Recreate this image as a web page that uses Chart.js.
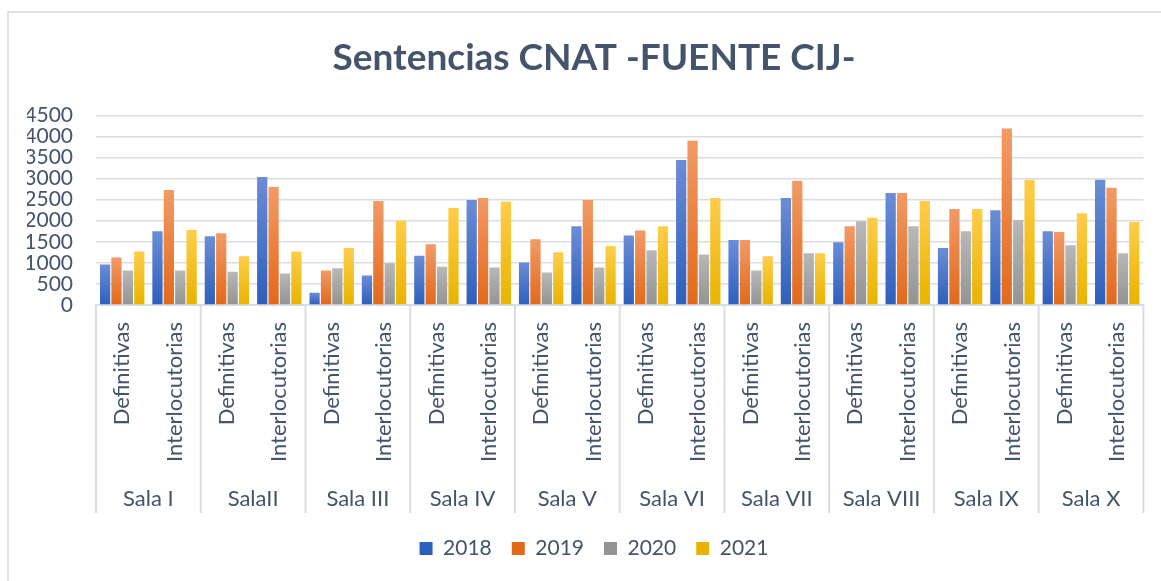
<!DOCTYPE html>
<html>
<head>
<meta charset="utf-8">
<script src="https://cdn.jsdelivr.net/npm/chart.js@4.4.0/dist/chart.umd.min.js"></script>
<style>
  html, body { margin: 0; padding: 0; background: #fff; overflow: hidden; }
  #wrap { position: relative; width: 1161px; height: 581px; }
  #frame { position: absolute; left: 7px; top: 11px; width: 1200px; height: 600px;
           border-left: 2px solid #dfe3e8; border-top: 2px solid #dfe3e8; }
  canvas { position: absolute; left: 0; top: 0; }
</style>
</head>
<body>
<div id="wrap">
  <div id="frame"></div>
  <canvas id="myChart" width="1161" height="581"></canvas>
</div>
<script>
var salas = ['Sala I', 'SalaII', 'Sala III', 'Sala IV', 'Sala V', 'Sala VI', 'Sala VII', 'Sala VIII', 'Sala IX', 'Sala X'];
var tipos = ['Definitivas', 'Interlocutorias'];
var anios = ['2018', '2019', '2020', '2021'];

// one value per sala and type: Def, Inter, Def, Inter ...
var data2018 = [960, 1750, 1630, 3040, 290, 700, 1170, 2490, 1010, 1870, 1650, 3440, 1540, 2540, 1490, 2660, 1350, 2250, 1750, 2970];
var data2019 = [1130, 2730, 1700, 2800, 820, 2470, 1440, 2540, 1560, 2490, 1770, 3900, 1540, 2950, 1870, 2660, 2280, 4190, 1730, 2780];
var data2020 = [820, 820, 790, 750, 870, 990, 910, 890, 770, 890, 1300, 1200, 820, 1230, 1990, 1870, 1750, 2020, 1420, 1230];
var data2021 = [1270, 1780, 1160, 1270, 1350, 2000, 2300, 2450, 1250, 1400, 1870, 2540, 1160, 1230, 2070, 2470, 2280, 2970, 2180, 1970];

var categorias = [];
salas.forEach(function () { categorias.push(tipos[0], tipos[1]); });

var texto = '#44546a';
var linea = '#d9dde3';

// gradient fill per bar, lighter on top like the excel original
function degradado(arriba, abajo, plano) {
  return function (c) {
    if (c.type !== 'data' || !c.chart.chartArea) return plano;
    var y = c.chart.scales.y;
    var y0 = y.getPixelForValue(c.parsed.y);
    var y1 = y.getPixelForValue(0);
    if (!isFinite(y0) || y1 - y0 < 1) return plano;
    var g = c.chart.ctx.createLinearGradient(0, y0, 0, y1);
    g.addColorStop(0, arriba);
    g.addColorStop(1, abajo);
    return g;
  };
}

// vertical separators between the salas, from the axis down to the group labels
var separadores = {
  id: 'separadores',
  afterDraw: function (chart) {
    var x = chart.scales.x, x2 = chart.scales.x2, ctx = chart.ctx;
    ctx.save();
    ctx.strokeStyle = linea;
    ctx.lineWidth = 2;
    for (var i = 0; i <= salas.length; i++) {
      var px;
      if (i === 0) px = x.left;
      else if (i === salas.length) px = x.right;
      else px = (x.getPixelForValue(2 * i - 1) + x.getPixelForValue(2 * i)) / 2;
      ctx.beginPath();
      ctx.moveTo(px, x.top);
      ctx.lineTo(px, x2.top + 33);
      ctx.stroke();
    }
    ctx.restore();
  }
};

var ctx = document.getElementById('myChart');
var myChart = new Chart(ctx, {
  type: 'bar',
  data: {
    labels: categorias,
    datasets: [
      { label: anios[0], data: data2018, backgroundColor: degradado('#6b8dd6', '#2d5fbc', '#4472c4') },
      { label: anios[1], data: data2019, backgroundColor: degradado('#f29a66', '#e2691a', '#ed7d31') },
      { label: anios[2], data: data2020, backgroundColor: degradado('#b8b8b8', '#939393', '#a5a5a5') },
      { label: anios[3], data: data2021, backgroundColor: degradado('#ffcd4a', '#e8b300', '#ffc000') }
    ]
  },
  options: {
    responsive: false,
    animation: false,
    categoryPercentage: 0.87,
    barPercentage: 0.9,
    layout: { padding: { left: 27, right: 0, top: 0, bottom: 12 } },
    scales: {
      x: {
        weight: 1,
        grid: { display: false, drawTicks: false },
        border: { display: true, color: linea, width: 2 },
        ticks: {
          color: texto,
          font: { family: 'Lato', size: 22 },
          minRotation: 90,
          maxRotation: 90,
          autoSkip: false,
          padding: 17
        },
        afterFit: function (s) { s.height = 175; }
      },
      x2: {
        type: 'category',
        labels: salas,
        position: 'bottom',
        offset: true,
        weight: 2,
        grid: { display: false, drawTicks: false },
        border: { display: false },
        ticks: { color: texto, font: { family: 'Lato', size: 22 }, padding: 6, autoSkip: false, maxRotation: 0 },
        afterFit: function (s) { s.height = 38; }
      },
      y: {
        min: 0,
        max: 4500,
        ticks: {
          stepSize: 500,
          autoSkip: false,
          color: texto,
          font: { family: 'Lato', size: 21 },
          padding: 23,
          callback: function (v) { return String(v); }
        },
        grid: { color: linea, lineWidth: 1.5, drawTicks: false },
        border: { display: false },
        afterFit: function (s) { s.width = 69; }
      },
      // empty right axis, only keeps the plot clear of the right edge
      yDer: {
        position: 'right',
        min: 0,
        max: 1,
        grid: { display: false, drawTicks: false },
        border: { display: false },
        ticks: { display: false },
        afterFit: function (s) { s.width = 15; }
      }
    },
    plugins: {
      title: {
        display: true,
        text: 'Sentencias CNAT -FUENTE CIJ-',
        color: texto,
        font: { family: 'Lato', size: 37, weight: 'bold' },
        padding: { top: 36, bottom: 35 }
      },
      legend: {
        position: 'bottom',
        labels: {
          color: texto,
          font: { family: 'Lato', size: 21 },
          boxWidth: 13,
          boxHeight: 13,
          padding: 20
        }
      },
      tooltip: { enabled: false }
    }
  },
  plugins: [separadores]
});
</script>
</body>
</html>
